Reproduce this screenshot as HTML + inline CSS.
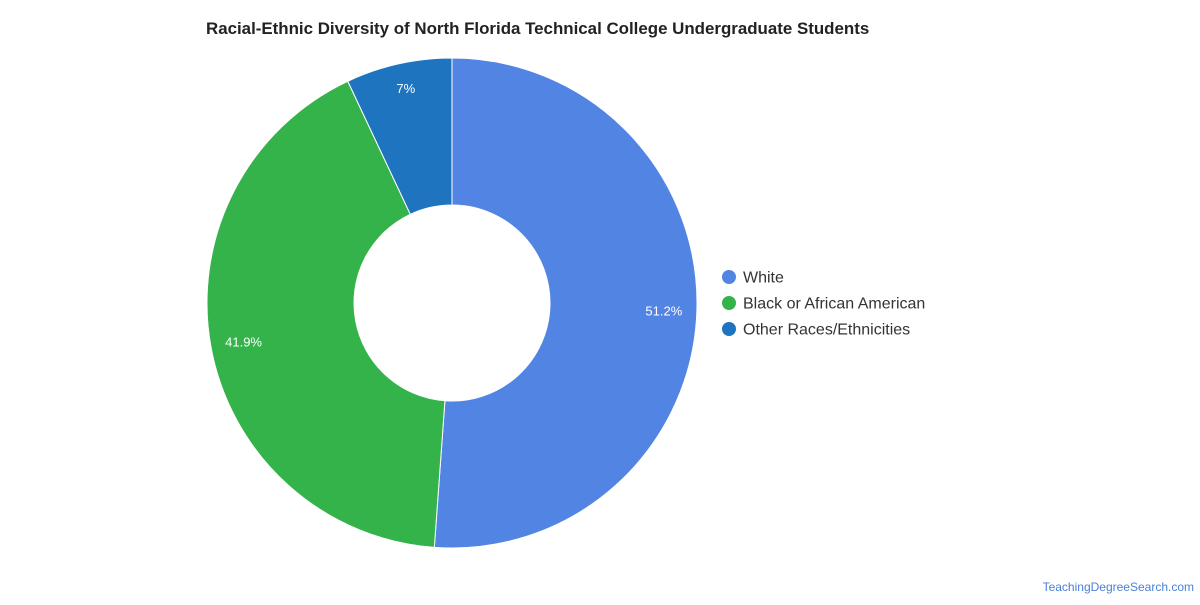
<!DOCTYPE html>
<html><head><meta charset="utf-8"><style>
body{margin:0;background:#fff;width:1200px;height:600px;overflow:hidden;font-family:"Liberation Sans",sans-serif}
</style></head><body>
<svg id="chart" width="1200" height="600">
<text x="206" y="34" font-size="16.9" font-weight="bold" fill="#222">Racial-Ethnic Diversity of North Florida Technical College Undergraduate Students</text>
<g id="slices"></g><g id="labels"></g><g id="legend"></g>
<text x="1194" y="591" text-anchor="end" font-size="12" fill="#4a7fd8">TeachingDegreeSearch.com</text>
</svg>
<script>
const categories=["White","Black or African American","Other Races/Ethnicities"];
const values=[51.2,41.9,7];
const valueLabels=["51.2%","41.9%","7%"];
const colors=["#5284e3","#34b34a","#1f74bf"];
const cx=452,cy=303,R=245,r=98,LR=212;
const ns="http://www.w3.org/2000/svg";
const total=values.reduce((a,b)=>a+b,0);
function pt(a,rad){return [cx+rad*Math.sin(a),cy-rad*Math.cos(a)];}
let acc=0;
values.forEach((v,i)=>{
  const a0=acc/total*2*Math.PI;acc+=v;const a1=acc/total*2*Math.PI;
  const lg=(a1-a0)>Math.PI?1:0;
  const [x0,y0]=pt(a0,R),[x1,y1]=pt(a1,R),[x2,y2]=pt(a1,r),[x3,y3]=pt(a0,r);
  const p=document.createElementNS(ns,"path");
  p.setAttribute("d",`M${x0},${y0}A${R},${R} 0 ${lg} 1 ${x1},${y1}L${x2},${y2}A${r},${r} 0 ${lg} 0 ${x3},${y3}Z`);
  p.setAttribute("fill",colors[i]);p.setAttribute("stroke","#fff");p.setAttribute("stroke-width","1");
  
  
  document.getElementById("slices").appendChild(p);
  const [lx,ly]=pt((a0+a1)/2,LR);
  const t=document.createElementNS(ns,"text");
  t.setAttribute("x",lx);t.setAttribute("y",(ly<150?ly-3:ly+5));t.setAttribute("text-anchor","middle");
  t.setAttribute("font-size","13");t.setAttribute("fill","#fff");t.textContent=valueLabels[i];
  
  
  document.getElementById("labels").appendChild(t);
  const g=document.createElementNS(ns,"g");
  
  
  const c=document.createElementNS(ns,"circle");
  c.setAttribute("cx",729);c.setAttribute("cy",277+26*i);c.setAttribute("r",7);c.setAttribute("fill",colors[i]);
  const lt=document.createElementNS(ns,"text");
  lt.setAttribute("x",743);lt.setAttribute("y",282.5+26*i);lt.setAttribute("font-size","16");lt.setAttribute("fill","#333");
  lt.textContent=categories[i];
  g.appendChild(c);g.appendChild(lt);
  document.getElementById("legend").appendChild(g);
});
</script>
</body></html>
